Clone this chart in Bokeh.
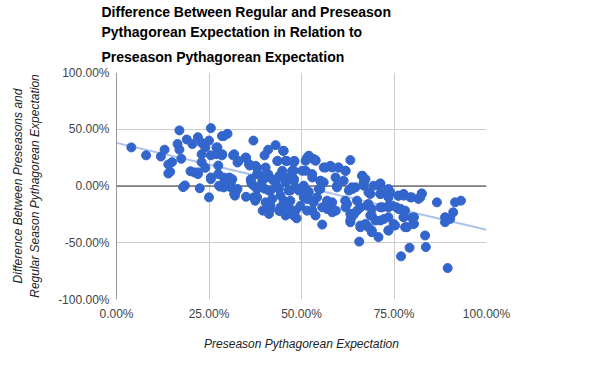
from bokeh.plotting import figure
from bokeh.models import Title, Span, FixedTicker, NumeralTickFormatter, Range1d
from bokeh.embed import file_html
from bokeh.resources import INLINE

# Preseason Pythagorean expectation (%), difference (%)
points = [
    (4,34),(8,27),(12,26),(13,32),(14,19),(15,21),(14,11),(14.5,12.5),(17,49),(16.5,37),(17,32),(17.5,24),
    (19,41),(20.5,37),(22,43),(23,38),(25.5,51),(24,34),(25,40),(27,34),(28.5,44),(23,28),(25.5,27),(23,21),
    (24,16),(21,12),(22,10.5),(25.5,7.5),(27.5,10.5),(27.5,18),(18,-1),(18.5,0.5),(22.5,-2),(25,-10),
    (29,44),(30,46),(37,40),(43,36),(45,31),(41,32),(40,27),(48,22),(43.5,22),(28,-0.5),(32,-8.5),(30.5,7.5),
    (25.5,6),(22,12),(20,13),(27,28),(28.5,27),(31.5,27),(33,22),(35,25),(36,18),(38,16),(36.5,2),(39,9),
    (41,10.5),(42.5,5),(44,9),(47.5,13),(48,6),(29,2),(30.5,0),
    (27.3,34),(28.6,28),(31.8,28),(32.7,20.7),(34.9,25),(35.8,19.3),(37.6,17.8),(38,10.5),(40.3,16.3),
    (39.4,4.6),(36.3,4.6),(43.5,22.2),(45.7,22.2),(47.9,20.7),(51.5,25),(53.3,23.7),(50.2,13.4),(47.9,13.4),
    (44.8,13.4),(46.6,7.5),(42.5,4.6),(43.5,-1.2),(41.2,-4.1),(38.5,-1.2),(37.1,-10),(40.3,-14.4),(41.6,-20.2),
    (44.3,-18.8),(46.6,-14.4),(48.4,-21.7),(51.5,-21.7),(52.9,-12.9),(51.1,-7),(48.4,-1.2),(29,7.5),(30.9,4.6),
    (32.2,-5.6),(27.7,0.3),(30.9,-1.2),(31.3,6),
    (29,-1.2),(31.8,-7),(30.9,3.2),(32.7,-2.6),(37.1,0.3),(38,-10),(42.1,-11.4),(40.8,-20.2),(41.2,-24.6),
    (44.3,-20.2),(46.6,-18.8),(47.9,-24.6),(49.7,-17.5),(51.5,-11.4),(53.3,-14.4),(52.9,-21.7),(53.8,-26),
    (55.6,-34),(56.9,-20.2),(56.9,-12.9),(43.9,-2.6),(45.7,3.2),(39.8,6),(42.1,6),(36.3,6),(38,-2.6),(49.3,-4),
    (50.6,0.3),(55.1,-2.6),(56,3.2),(51.5,-4),
    (35,-9.5),(37.5,-13),(39.5,-21.7),(41.6,-17),(44,-22),(45.7,-26),(47.6,-25),(48.7,-28.5),(40,-2.4),
    (41.6,-4),(43,3),(44.3,-8.5),(47,-13),(46.5,-4),
    (45.2,31),(46.1,22),(48.1,22),(47.5,13.4),(45.2,7.5),(47.9,4.6),(47,-4),(45.2,-12.9),(46.1,-21.7),
    (47.9,-26),(52,26.6),(51.1,22.2),(53.8,22.2),(51.1,13.4),(52.9,7.5),(55.1,4.6),(50.6,-10),(54.2,-10),
    (56,16.3),(57.8,17.8),(60,16.3),(61.9,13.4),(63.2,22.8),(59.2,7.5),(61.4,4.6),(63.7,-2.7),(66.4,9),
    (67.3,6),(66.8,0.3),(68.6,-7),(71.3,1.8),(71.3,-7),(73.5,-2.7),(73.5,-10),(71.3,-18.8),(73.5,-18.8),
    (58.3,-14.4),(58.7,-21.7),(62.3,-15.8),(63.2,-24.6),(65.9,-18.8),(67.7,-17.3),(69,-26),(63.2,-30.4),
    (65.9,-34.8),(68.1,-36.3),(69,-40.7),(70.8,-45),(65.6,-49),(71.3,-30.4),(73.5,-27.5),(73.5,-39.2),
    (75.3,-34.8),(76.2,-8.5),(77.6,-7),(79.8,-10),(82.1,-10),(82.5,-6.5),(76.2,-20.2),(78,-21.7),(77.6,-27.5),
    (80.4,-27.5),(80.4,-33.4),(78.5,-36.3),(83.4,-43.6),(83.6,-53.8),(79.2,-54.4),(76.9,-62),(86.6,-14.4),
    (88.8,-27.5),(88.8,-31.9),(90.2,-29),(91,-23.2),(91.5,-14.4),(93.1,-12.9),(89.5,-72.3),
    (63.2,-32),(65.9,-36.3),(69,-39.2),(73.5,-39.2),(74.9,-33.4),(78,-36.3),(80.2,-33.4),(82.5,-7),
    (81.6,-11.4),(79.4,-10),(77.6,-8.5),(76.7,-20.2),(77.6,-27.5),(79.8,-28),(68.6,-26),(70,-30.4),(72.3,-29),
    (67.3,-33.4),(64.1,-25.2),(65.9,-18.8),(64.1,-24.6),(59.3,-21.7),(61.8,-12.9),(65,-12.9),(68.1,-15.8),
    (71.3,-7),(74,-5.6),(70.8,0.3),(69.5,0.3),(66.8,1.8),(59.6,0.3),(63.6,-1.2),(73.5,-17.3),(75.7,-18.8),
    (52,26.6),(53.8,22.8),(56.5,16.3),(58.3,16.3),(60,16.3),(61.9,13.4),(66.4,9),(66.8,3.2),(71.3,2.3),
    (73.1,-4),(76.2,-8.5),(52.9,10.5),(55.1,4.6),(52,-5.6),(54.7,-2.6),(59.6,-1.2),(62.8,-4),(64.6,-1.2),
    (68.1,-5.6),(52.9,-21.7),(55.6,-18.8),(58.3,-23.2),(61.9,-18.8),(65,-21.7),(69,-20.2),(71.8,-18.8),
    (74.5,-17.3),(76.7,-20.2),(63.5,-27.5),
]
preseason = [a / 100 for a, b in points]
difference = [b / 100 for a, b in points]

trend_x = [0.0, 1.0]
trend_y = [0.38, -0.386]

x_ticks = [0, 0.25, 0.5, 0.75, 1.0]
y_ticks = [-1.0, -0.5, 0, 0.5, 1.0]

title_lines = [
    "Difference Between Regular and Preseason",
    "Pythagorean Expectation in Relation to",
    "Preseason Pythagorean Expectation",
]
x_label = "Preseason Pythagorean Expectation"
y_label = "Difference Between Preseasons and\nRegular Season Pythagorean Expectation"

FONT = "Liberation Sans"

def make_title(t, standoff):
    return Title(text=t, align="left", offset=-15, standoff=standoff,
                 text_font=FONT, text_font_size="14px", text_font_style="bold",
                 text_color="#000000")

p = figure(width=584, height=355, output_backend="svg", toolbar_location=None,
           x_range=Range1d(0, 1), y_range=Range1d(-1, 1),
           min_border_left=116, min_border_right=98,
           min_border_top=71, min_border_bottom=56)
# p.title is outermost; layouts added "above" stack from the frame outward
p.title = make_title(title_lines[0], 3)
p.add_layout(make_title(title_lines[2], 15), "above")
p.add_layout(make_title(title_lines[1], 0), "above")

p.outline_line_color = None
p.background_fill_color = "white"
p.border_fill_color = "white"

for ax, ticks in ((p.xaxis, x_ticks), (p.yaxis, y_ticks)):
    ax.ticker = FixedTicker(ticks=ticks)
    ax.formatter = NumeralTickFormatter(format="0.00%")
    ax.axis_line_color = None
    ax.major_tick_line_color = None
    ax.minor_tick_line_color = None
    ax.major_tick_out = 0
    ax.major_tick_in = 0
    ax.minor_tick_out = 0
    ax.minor_tick_in = 0
    ax.major_label_text_font = FONT
    ax.major_label_text_font_size = "12px"
    ax.major_label_text_color = "#444444"
    ax.axis_label_text_font = FONT
    ax.axis_label_text_font_size = "12px"
    ax.axis_label_text_font_style = "italic"
    ax.axis_label_text_color = "#222222"

p.xaxis.axis_label = x_label
p.yaxis.axis_label = y_label
p.xaxis.major_label_standoff = 7
p.yaxis.major_label_standoff = 7
p.xaxis.axis_label_standoff = 13
p.yaxis.axis_label_standoff = 13

p.xgrid.ticker = FixedTicker(ticks=x_ticks)
p.ygrid.ticker = FixedTicker(ticks=y_ticks)
p.grid.grid_line_color = "#cccccc"
p.grid.grid_line_width = 1

p.add_layout(Span(location=0, dimension="height", line_color="#333333", line_width=1, level="underlay"))
p.add_layout(Span(location=0, dimension="width", line_color="#333333", line_width=1, level="underlay"))

p.line(trend_x, trend_y, line_color="#3366cc", line_alpha=0.4, line_width=2)
p.scatter(preseason, difference, size=9, fill_color="#3366cc", line_color="#3366cc")

open("out.html", "w").write(file_html(p, INLINE))
